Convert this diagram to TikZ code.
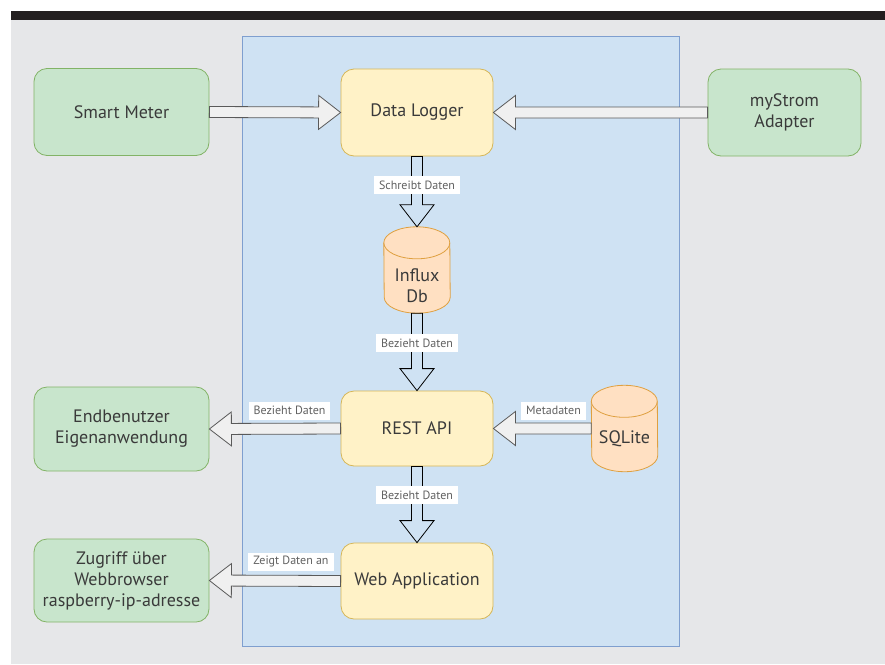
\documentclass[tikz,border=0pt]{standalone}
\usepackage{fontspec}
\setmainfont{PT Sans}
\usetikzlibrary{calc}
\definecolor{bggray}{HTML}{E6E7E9}
\definecolor{barblack}{HTML}{231F20}
\definecolor{bluefill}{HTML}{CFE2F3}
\definecolor{bluedraw}{HTML}{7F9FCF}
\definecolor{gfill}{HTML}{C8E5CC}
\definecolor{gdraw}{HTML}{82B366}
\definecolor{yfill}{HTML}{FFF2C7}
\definecolor{ydraw}{HTML}{D6B656}
\definecolor{ofill}{HTML}{FFE0C2}
\definecolor{odraw}{HTML}{DFA040}
\definecolor{txt}{HTML}{3A3A3A}
\definecolor{arrfill}{HTML}{F0F0F0}
\definecolor{arrdraw}{HTML}{5A5A5A}
\newcommand\flexarrow[3]{%
  \draw[#1] ($(#2)!5.5pt!90:(#3)$) -- ($(#3)!22pt!(#2)!5.5pt!90:(#3)$)
    -- ($(#3)!22pt!(#2)!17pt!90:(#3)$) -- (#3)
    -- ($(#3)!22pt!(#2)!17pt!-90:(#3)$) -- ($(#3)!22pt!(#2)!5.5pt!-90:(#3)$)
    -- ($(#2)!5.5pt!-90:(#3)$) -- cycle;}
\newcommand\cylshape[1]{%
  \filldraw[cylstyle] ($(#1.north west)+(0,-16)$)
    arc[start angle=180,end angle=0,x radius=33,y radius=16]
    -- ($(#1.south east)+(0,16)$)
    arc[start angle=0,end angle=-180,x radius=33,y radius=16] -- cycle;
  \draw[cylstyle,fill=none] ($(#1.north west)+(0,-16)$)
    arc[start angle=180,end angle=360,x radius=33,y radius=16];}
\tikzset{
  box/.style={rectangle, rounded corners=13pt, line width=0.8pt, align=center,
    font=\fontsize{18}{21}\selectfont, text=txt, inner sep=0pt},
  gbox/.style={box, fill=gfill, draw=gdraw},
  ybox/.style={box, fill=yfill, draw=ydraw},
  cylnode/.style={rectangle, draw=none, minimum width=66pt, inner sep=0pt},
  cylstyle/.style={fill=ofill, draw=odraw, line width=0.8pt},
  cyltext/.style={align=center, font=\fontsize{18}{21}\selectfont, text=txt},
  harrow/.style={fill=arrfill, draw=arrdraw, line width=0.8pt, line join=miter},
  varrow/.style={fill=none, draw=black, line width=0.8pt, line join=miter},
  lbl/.style={fill=white, font=\fontsize{12}{14}\selectfont, text=txt!80!white,
    inner xsep=5pt, minimum height=18pt, inner ysep=0pt},
}
\begin{document}
\begin{tikzpicture}[x=1pt,y=1pt]
\useasboundingbox (0,0) rectangle (885,-664);
\fill[bggray] (11,-20) rectangle (885,-664);
\fill[barblack] (11,-11) rectangle (885,-20);
\draw[fill=bluefill, draw=bluedraw, line width=0.9pt] (242,-36) rectangle (679,-646);

\node[gbox, minimum width=175pt, minimum height=87pt] (sm) at (121.5,-112) {Smart Meter};
\node[ybox, minimum width=152pt, minimum height=87pt] (dl) at (417,-112.5) {Data Logger};
\node[gbox, minimum width=153pt, minimum height=87pt] (ms) at (784.5,-112.5) {myStrom\\Adapter};
\node[cylnode, minimum height=86pt] (influx) at (417,-270) {};
\node[ybox, minimum width=152pt, minimum height=75pt] (rest) at (417,-428.5) {REST API};
\node[cylnode, minimum height=86pt] (sqlite) at (624.5,-428.5) {};
\node[gbox, minimum width=175pt, minimum height=84pt] (eb) at (121.5,-429) {Endbenutzer\\Eigenanwendung};
\node[ybox, minimum width=152pt, minimum height=76pt] (web) at (417,-581) {Web Application};
\node[gbox, minimum width=175pt, minimum height=83pt] (zg) at (121.5,-580.5) {Zugriff über\\Webbrowser\\raspberry-ip-adresse};

\cylshape{influx}
\cylshape{sqlite}
\node[cyltext] (influxtxt) at ($(influx.center)+(0,-16)$) {Influx\\Db};
\node[cyltext] (sqlitetxt) at ($(sqlite.center)+(0,-10)$) {SQLite};

\flexarrow{harrow}{sm.east}{dl.west}
\flexarrow{harrow}{ms.west}{dl.east}
\flexarrow{varrow}{dl.south}{influx.north}
\flexarrow{varrow}{influx.south}{rest.north}
\flexarrow{varrow}{rest.south}{web.north}
\flexarrow{harrow}{rest.west}{eb.east}
\flexarrow{harrow}{sqlite.west}{rest.east}
\flexarrow{harrow}{web.west}{zg.east}

\node[lbl] (l1) at (417,-185) {Schreibt Daten};
\node[lbl] (l2) at (417,-343) {Bezieht Daten};
\node[lbl] (l3) at (417,-495) {Bezieht Daten};
\node[lbl] (l4) at (289.5,-410.5) {Bezieht Daten};
\node[lbl] (l5) at (553.5,-410.5) {Metadaten};
\node[lbl] (l6) at (291,-562) {Zeigt Daten an};
\end{tikzpicture}
\end{document}
